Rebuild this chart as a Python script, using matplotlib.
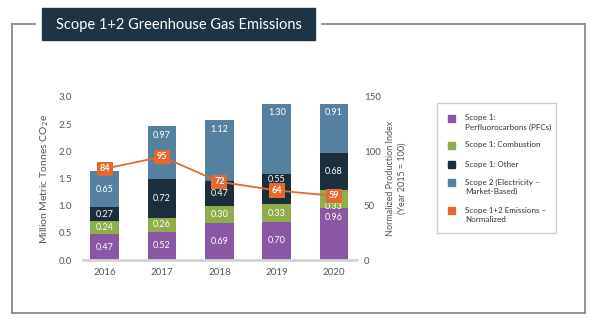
import matplotlib.pyplot as plt
import numpy as np
from matplotlib.patches import Rectangle
from matplotlib.lines import Line2D

plt.rcParams['font.family'] = ['Lato', 'DejaVu Sans']

years = ['2016', '2017', '2018', '2019', '2020']
pfc = [0.47, 0.52, 0.69, 0.70, 0.96]
combustion = [0.24, 0.26, 0.30, 0.33, 0.33]
other = [0.27, 0.72, 0.47, 0.55, 0.68]
scope2 = [0.65, 0.97, 1.12, 1.30, 0.91]
normalized = [84, 95, 72, 64, 59]

series = [pfc, combustion, other, scope2]
colors = ['#8a57a5', '#8fad4a', '#1c2d3b', '#56809f']
line_col = '#e4692e'
legend_labels = ['Scope 1:\nPerfluorocarbons (PFCs)', 'Scope 1: Combustion',
                 'Scope 1: Other', 'Scope 2 (Electricity \u2013\nMarket-Based)',
                 'Scope 1+2 Emissions \u2013\nNormalized']

fig = plt.figure(figsize=(6, 3.29), dpi=100)
W, H = 600, 329

def fx(px):
    return px / W

def fy(py):
    return 1 - py / H

# frame lines
fc = '#8a8a8a'
for xs, ys in [((12, 12), (24, 313)), ((12, 585), (313, 313)), ((585, 585), (24, 313)),
               ((12, 35), (24, 24)), ((322, 585), (24, 24))]:
    fig.add_artist(Line2D([fx(x) for x in xs], [fy(y) for y in ys], color=fc, lw=1.3))

# title box
fig.add_artist(Rectangle((fx(42), fy(40)), fx(315) - fx(42), fy(8) - fy(40),
                         transform=fig.transFigure, color='#1e3444'))
fig.text(fx(179), fy(24.5), 'Scope 1+2 Greenhouse Gas Emissions', color='white',
         fontsize=10.5, ha='center', va='center')

ax = fig.add_axes([fx(83), fy(260), fx(357) - fx(83), fy(97) - fy(260)])
x = np.arange(len(years))
bottom = np.zeros(len(years))
ax2max = 150
marker_left = np.array(normalized) / ax2max * 3.0
for s, vals in enumerate(series):
    ax.bar(x, vals, 0.5, bottom=bottom, color=colors[s], zorder=2)
    for i, v in enumerate(vals):
        b, t = bottom[i], bottom[i] + v
        yl = (b + t) / 2
        if v > 0.9:
            yl = t - 0.17
        elif abs(marker_left[i] - yl) < 0.15:
            m = marker_left[i]
            if t - m > m - b:
                yl = min(m + 0.2, t - 0.06)
            else:
                yl = max(m - 0.2, b + 0.02)
        ax.text(x[i], yl, f'{v:.2f}', color='white', fontsize=6.5,
                ha='center', va='center', zorder=3)
    bottom += np.array(vals)

ax.set_xlim(-0.38, 4.4)
ax.set_ylim(0, 3.0)
ax.set_yticks([0, 0.5, 1.0, 1.5, 2.0, 2.5, 3.0])
ax.set_yticklabels([f'{t:.1f}' for t in ax.get_yticks()])
ax.set_xticks(x)
ax.set_xticklabels(years)
for sp in ['top', 'left', 'right']:
    ax.spines[sp].set_visible(False)
ax.spines['bottom'].set_color('#d4d4d4')
ax.spines['bottom'].set_linewidth(2)
ax.tick_params(axis='both', length=0, labelsize=7, labelcolor='#555555')
ax.tick_params(axis='x', pad=6)
ax.tick_params(axis='y', pad=8)
ax.set_ylabel('Million Metric Tonnes CO$_2$e', fontsize=7.5, color='#555555', labelpad=5)

ax2 = ax.twinx()
ax2.set_ylim(0, ax2max)
ax2.set_yticks([0, 50, 100, 150])
for sp in ['top', 'left', 'right', 'bottom']:
    ax2.spines[sp].set_visible(False)
ax2.tick_params(axis='y', length=0, labelsize=7, labelcolor='#555555', pad=5)
ax2.plot(x, normalized, color=line_col, lw=1.3, zorder=4)
for i, v in enumerate(normalized):
    ax2.text(x[i], v, str(v), color='white', fontsize=6.5, fontweight='bold',
             ha='center', va='center', zorder=5,
             bbox=dict(boxstyle='square,pad=0.3', fc=line_col, ec='none'))
ax2.set_ylabel('Normalized Production Index\n(Year 2015 = 100)', fontsize=6.5,
               color='#555555', labelpad=4, linespacing=1.3)

# legend box
fig.add_artist(Rectangle((fx(437), fy(233)), fx(556) - fx(437), fy(103) - fy(233),
                         transform=fig.transFigure, fc='white', ec='#cfcfcf', lw=1))
leg_y = [122.5, 145, 164, 187, 215]
leg_colors = colors + [line_col]
for lab, c, yy in zip(legend_labels, leg_colors, leg_y):
    sq_center = yy - 4.2 if '\n' in lab else yy
    fig.add_artist(Rectangle((fx(448), fy(sq_center + 3.5)), fx(7), fy(0) - fy(7),
                             transform=fig.transFigure, color=c))
    fig.text(fx(465), fy(yy), lab, fontsize=5.8, color='#333333', va='center',
             ha='left', linespacing=1.35)

fig.savefig('out.png', dpi=100)
